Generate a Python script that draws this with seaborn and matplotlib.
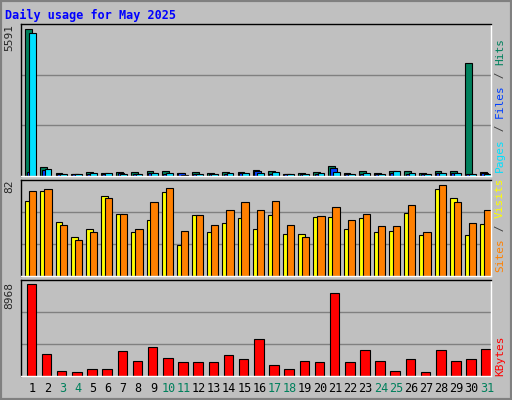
import matplotlib
matplotlib.use("Agg")
import matplotlib.pyplot as plt
import seaborn as sns
import numpy as np

sns.set_theme(style="white")
plt.rcParams['font.family'] = ['DejaVu Sans Mono', 'DejaVu Sans']

days = list(range(1, 32))
weekend = [3, 4, 10, 11, 17, 18, 24, 25, 31]
hits = [5591, 355, 114, 89, 165, 114, 165, 152, 203, 203, 127, 152, 114, 165, 165, 241,
        203, 89, 127, 165, 393, 127, 203, 127, 203, 203, 127, 203, 203, 4298, 165]
files = [165, 230, 70, 60, 90, 80, 100, 80, 100, 90, 110, 70, 70, 90, 100, 200,
         90, 60, 70, 90, 300, 70, 90, 70, 110, 90, 70, 130, 100, 60, 120]
pages = [5440, 266, 89, 89, 114, 114, 89, 89, 114, 114, 25, 89, 89, 114, 114, 114,
         140, 76, 89, 114, 152, 89, 114, 89, 203, 114, 89, 114, 114, 89, 89]
sites = [65.1, 73.7, 46.7, 34.1, 41, 69.4, 53.9, 37.6, 48.7, 72.8, 27.2, 53, 37.6, 46.2, 50.5, 41,
         53, 36.7, 36.7, 51.3, 51.3, 41, 50.5, 38.4, 39.3, 54.8, 35.8, 75.4, 67.7, 35, 45.3]
visits = [73.7, 75.1, 44.4, 30.7, 38.4, 67.7, 53.9, 41, 64.2, 76.3, 39.3, 53, 44.4, 57.3, 64.2, 57.3,
          65.1, 44.4, 33.3, 52.2, 59.9, 48.7, 53.9, 43.6, 43.6, 61.6, 37.6, 78.8, 64.2, 46.2, 57.3]
kbytes = [8968, 2120, 457, 359, 652, 652, 2413, 1435, 2805, 1728, 1337, 1337, 1337, 2022, 1630, 3587,
          1044, 652, 1435, 1337, 8087, 1337, 2511, 1435, 457, 1630, 359, 2511, 1435, 1630, 2609]
max_labels = ['5591', '82', '8968']

W, H = 512, 400
fig = plt.figure(figsize=(5.12, 4.0), dpi=100)
fig.patch.set_facecolor('#C0C0C0')
fig.add_artist(plt.Rectangle((0, 0), 1, 1, transform=fig.transFigure, fill=False,
                             edgecolor='#808080', lw=3))

def mkax(top, bottom):
    ax = fig.add_axes([21 / W, 1 - bottom / H, 470 / W, (bottom - top) / H])
    ax.set_facecolor('#C0C0C0')
    ax.set_xlim(0.27, 31.27)
    for s in ax.spines.values():
        s.set_color('black'); s.set_linewidth(1)
    ax.spines['right'].set_color('white'); ax.spines['bottom'].set_color('white')
    ax.set_xticks([]); ax.set_yticks([])
    return ax

x = np.array(days, dtype=float)
ec = dict(edgecolor='black', linewidth=0.8, align='edge')

ax1 = mkax(24, 176)
ym = max(hits) / 0.97
ax1.set_ylim(0, ym)
for g in (ym / 3, 2 * ym / 3):
    ax1.axhline(g, color='#808080', lw=1, zorder=0)
ax1.bar(x - 0.45, hits, 0.45, color='#00805C', **ec)
ax1.bar(x - 0.36, files, 0.45, color='#0040FF', **ec)
ax1.bar(x - 0.17, pages, 0.45, color='#00E0FF', **ec)
ax1.text(-0.025, 1.0, max_labels[0], transform=ax1.transAxes, rotation=90,
         ha='center', va='top', fontsize=8)

ax2 = mkax(180, 276)
ym2 = max(visits) / 0.95
ax2.set_ylim(0, ym2)
for g in (ym2 / 3, 2 * ym2 / 3):
    ax2.axhline(g, color='#808080', lw=1, zorder=0)
ax2.bar(x - 0.45, sites, 0.45, color='#FFFF00', **ec)
ax2.bar(x - 0.19, visits, 0.48, color='#FF8000', **ec)
ax2.text(-0.025, 1.0, max_labels[1], transform=ax2.transAxes, rotation=90,
         ha='center', va='top', fontsize=8)

ax3 = mkax(280, 376)
ym3 = max(kbytes) / 0.96
ax3.set_ylim(0, ym3)
for g in (ym3 / 3, 2 * ym3 / 3):
    ax3.axhline(g, color='#808080', lw=1, zorder=0)
ax3.bar(x - 0.36, kbytes, 0.63, color='#FF0000', **ec)
ax3.text(-0.025, 0.98, max_labels[2], transform=ax3.transAxes, rotation=90,
         ha='center', va='top', fontsize=8)

for d in days:
    ax3.text(d, -0.06 * ym3, str(d), ha='center', va='top', fontsize=8.5,
             color='#00805C' if d in weekend else 'black', clip_on=False)

fig.text(5 / W, 1 - 15 / H, 'Daily usage for May 2025', color='#0000FF',
         fontsize=8.5, fontweight='bold', va='center')

def vlabel(pieces, ybottom):
    y = ybottom
    for txt, col in pieces:
        fig.text(500 / W, 1 - y / H, txt, rotation=90, color=col, fontsize=8,
                 ha='center', va='bottom')
        y -= len(txt) * 6.7

vlabel([('Pages', '#00E0FF'), (' / ', '#404040'), ('Files', '#0040FF'),
        (' / ', '#404040'), ('Hits', '#00805C')], 172)
vlabel([('Sites', '#FF8000'), (' / ', '#404040'), ('Visits', '#FFFF00')], 272)
vlabel([('KBytes', '#FF0000')], 376)

fig.savefig('out.png', dpi=100, facecolor=fig.get_facecolor())
